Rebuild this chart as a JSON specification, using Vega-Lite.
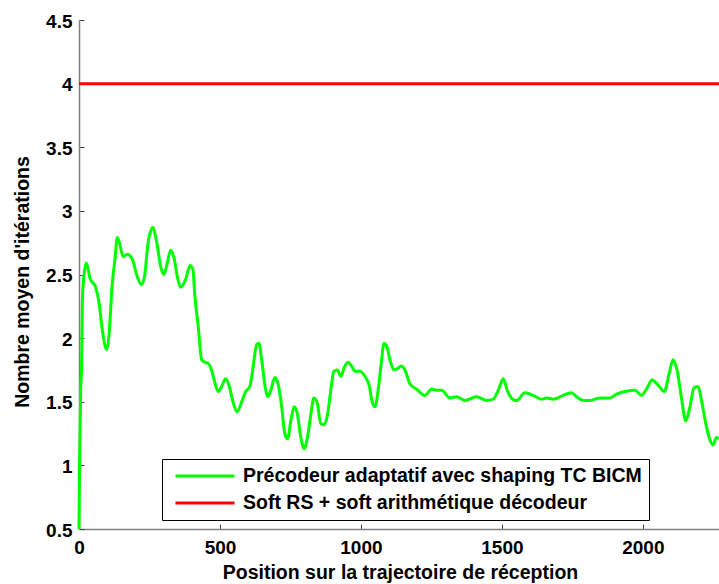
{
  "$schema": "https://vega.github.io/schema/vega-lite/v6.json",
  "width": 640,
  "height": 509,
  "autosize": {"type": "none"},
  "padding": {"left": 79, "top": 20, "right": 0, "bottom": 55},
  "background": "white",
  "config": {"view": {"stroke": null}, "font": "Liberation Sans"},
  "datasets": {
    "green": [
      [0,0.5],[2,1.0],[6,1.6],[9,1.75],[12,2.28],[17,2.48],[26,2.59],[39,2.47],[59,2.40],[71,2.28],[83,2.06],[98,1.91],[106,2.01],[118,2.43],[127,2.61],[136,2.79],[142,2.76],[157,2.64],[171,2.66],[189,2.62],[207,2.48],[222,2.42],[234,2.51],[245,2.75],[262,2.87],[275,2.76],[290,2.56],[301,2.50],[313,2.59],[325,2.69],[337,2.63],[349,2.48],[360,2.40],[378,2.46],[394,2.57],[404,2.54],[411,2.33],[423,2.09],[435,1.83],[447,1.81],[459,1.80],[470,1.75],[482,1.65],[494,1.58],[506,1.62],[520,1.68],[532,1.63],[545,1.51],[561,1.42],[577,1.50],[591,1.58],[606,1.62],[618,1.78],[630,1.95],[638,1.96],[648,1.83],[660,1.62],[669,1.54],[680,1.59],[695,1.69],[707,1.63],[719,1.46],[730,1.25],[740,1.21],[752,1.36],[763,1.46],[774,1.41],[786,1.23],[799,1.13],[811,1.23],[823,1.41],[833,1.53],[845,1.49],[857,1.33],[869,1.32],[880,1.38],[892,1.57],[904,1.74],[916,1.75],[929,1.70],[941,1.77],[955,1.81],[967,1.78],[979,1.74],[996,1.74],[1014,1.70],[1029,1.63],[1041,1.49],[1050,1.46],[1061,1.59],[1071,1.78],[1082,1.96],[1091,1.94],[1103,1.83],[1117,1.75],[1129,1.76],[1144,1.78],[1156,1.75],[1174,1.64],[1197,1.60],[1227,1.55],[1251,1.60],[1268,1.59],[1286,1.59],[1316,1.53],[1339,1.54],[1369,1.51],[1410,1.54],[1446,1.51],[1469,1.52],[1487,1.59],[1505,1.68],[1519,1.59],[1538,1.52],[1552,1.51],[1582,1.57],[1611,1.55],[1641,1.52],[1658,1.53],[1682,1.52],[1717,1.55],[1747,1.57],[1765,1.54],[1788,1.51],[1812,1.51],[1848,1.53],[1883,1.53],[1907,1.56],[1936,1.58],[1972,1.59],[1995,1.55],[2013,1.60],[2033,1.67],[2054,1.63],[2076,1.58],[2093,1.72],[2107,1.83],[2121,1.75],[2137,1.53],[2152,1.35],[2167,1.46],[2181,1.61],[2196,1.62],[2208,1.51],[2223,1.33],[2238,1.20],[2249,1.16],[2261,1.22],[2270,1.21]
    ]
  },
  "data": {"values": [
    {"x": 0, "y": 4, "series": "Soft RS + soft arithmétique décodeur"},
    {"x": 2270, "y": 4, "series": "Soft RS + soft arithmétique décodeur"}
  ]},
  "layer": [
    {
      "data": {"name": "green"},
      "transform": [
        {"calculate": "datum[0]", "as": "x"},
        {"calculate": "datum[1]", "as": "y"},
        {"calculate": "'Précodeur adaptatif avec shaping TC BICM'", "as": "series"}
      ],
      "mark": {"type": "line", "strokeWidth": 3, "interpolate": "monotone"},
      "encoding": {
        "x": {"field": "x", "type": "quantitative"},
        "y": {"field": "y", "type": "quantitative"},
        "color": {"field": "series", "type": "nominal"}
      }
    },
    {
      "mark": {"type": "line", "strokeWidth": 3},
      "encoding": {
        "x": {"field": "x", "type": "quantitative"},
        "y": {"field": "y", "type": "quantitative"},
        "color": {"field": "series", "type": "nominal"}
      }
    }
  ],
  "resolve": {"scale": {"color": "shared"}},
  "encoding": {
    "x": {
      "field": "x", "type": "quantitative",
      "scale": {"domain": [0, 2270], "nice": false, "zero": false},
      "axis": {
        "values": [0, 500, 1000, 1500, 2000], "format": "d", "grid": false,
        "labelFont": "Liberation Sans", "labelFontWeight": "bold", "labelFontSize": 19, "labelColor": "black",
        "labelBaseline": "alphabetic", "labelPadding": 29, "labelFlush": false,
        "domainColor": "#808080", "domainWidth": 1.5, "tickColor": "#404040", "tickSize": -5,
        "title": "Position sur la trajectoire de réception",
        "titleFont": "Liberation Sans", "titleFontWeight": "bold", "titleFontSize": 19.5, "titleColor": "black",
        "titleX": 321, "titleY": 49, "titleBaseline": "alphabetic", "titleAlign": "center"
      }
    },
    "y": {
      "field": "y", "type": "quantitative",
      "scale": {"domain": [0.5, 4.5], "nice": false, "zero": false},
      "axis": {
        "values": [0.5, 1, 1.5, 2, 2.5, 3, 3.5, 4, 4.5], "format": "~g", "grid": false,
        "labelFont": "Liberation Sans", "labelFontWeight": "bold", "labelFontSize": 19, "labelColor": "black",
        "labelPadding": 12, "labelOffset": 1,
        "domainColor": "#808080", "domainWidth": 1.5, "tickColor": "#404040", "tickSize": -5,
        "title": "Nombre moyen d'itérations",
        "titleFont": "Liberation Sans", "titleFontWeight": "bold", "titleFontSize": 19.5, "titleColor": "black",
        "titleX": -50.5, "titleY": 261.5, "titleBaseline": "alphabetic", "titleAlign": "center", "titleAngle": -90
      }
    },
    "color": {
      "field": "series", "type": "nominal",
      "scale": {
        "domain": ["Précodeur adaptatif avec shaping TC BICM", "Soft RS + soft arithmétique décodeur"],
        "range": ["#00ff00", "#ff0000"]
      },
      "legend": {
        "orient": "none", "legendX": 83, "legendY": 439, "title": null,
        "labelFont": "Liberation Sans", "labelFontWeight": "bold", "labelFontSize": 19.5, "labelColor": "black",
        "labelLimit": 700, "labelOffset": 7,
        "symbolType": "stroke", "symbolSize": 3481, "symbolStrokeWidth": 3,
        "clipHeight": 20, "rowPadding": 7, "padding": 7, "symbolOffset": 5,
        "strokeColor": "black", "fillColor": "white"
      }
    }
  }
}
